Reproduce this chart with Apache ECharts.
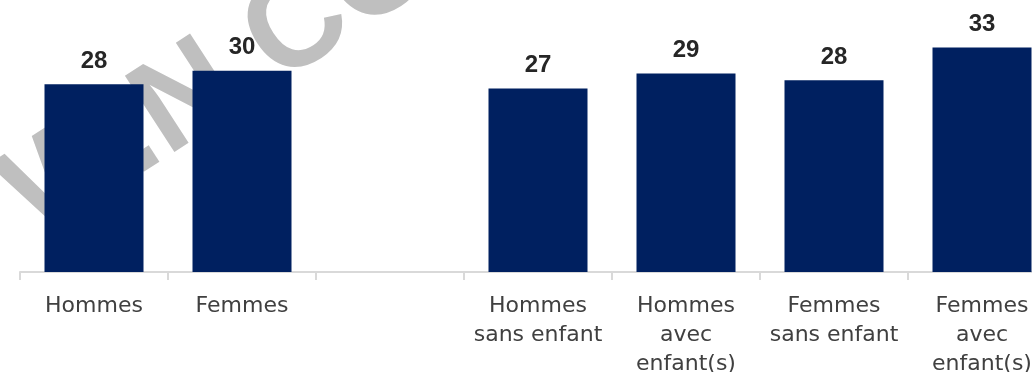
<!DOCTYPE html>
<html>
<head>
<meta charset="utf-8">
<script src="https://cdn.jsdelivr.net/npm/echarts@6/dist/echarts.min.js"></script>
<style>
html,body{margin:0;padding:0;background:#fff;}
#chart{width:1032px;height:372px;}
</style>
</head>
<body>
<div id="chart"></div>
<script>
const categories = ['Hommes', 'Femmes', '', 'Hommes\nsans enfant', 'Hommes\navec\nenfant(s)', 'Femmes\nsans enfant', 'Femmes\navec\nenfant(s)'];
const values = [27.6, 29.6, null, 27.0, 29.2, 28.2, 33.0];
const watermarkText = 'W.N.CO';

const chart = echarts.init(document.getElementById('chart'), null, {renderer: 'canvas'});
chart.setOption({
  animation: false,
  backgroundColor: '#ffffff',
  graphic: [{
    type: 'text',
    z: 0,
    x: 18,
    y: 210,
    rotation: 33 * Math.PI / 180,
    silent: true,
    style: {
      text: watermarkText,
      font: 'bold 132px "Liberation Sans"',
      fill: '#bfbfbf',
      textAlign: 'left',
      textVerticalAlign: 'middle'
    }
  }],
  grid: {left: 20, width: 1036, top: 0, bottom: 100, outerBoundsMode: 'none', containLabel: false},
  xAxis: {
    type: 'category',
    data: categories,
    boundaryGap: true,
    axisLine: {show: true, lineStyle: {color: '#d9d9d9', width: 2}},
    axisTick: {show: true, length: 8, lineStyle: {color: '#d9d9d9', width: 2}},
    axisLabel: {
      interval: 0,
      margin: 20,
      color: '#404040',
      fontFamily: 'DejaVu Sans',
      fontSize: 22,
      lineHeight: 29
    }
  },
  yAxis: {
    type: 'value',
    min: 0,
    max: 40,
    show: false,
    splitLine: {show: false}
  },
  series: [{
    type: 'bar',
    z: 2,
    data: values,
    barWidth: 99,
    itemStyle: {color: '#002060'},
    label: {
      show: true,
      position: 'top',
      distance: 11,
      color: '#262626',
      fontFamily: 'Liberation Sans',
      fontWeight: 'bold',
      fontSize: 24,
      formatter: p => p.value == null ? '' : String(Math.round(p.value))
    }
  }]
});
</script>
</body>
</html>
